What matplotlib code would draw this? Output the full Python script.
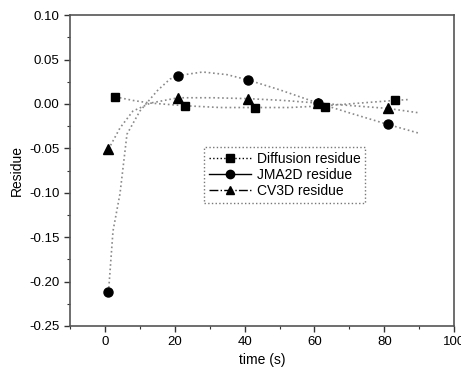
import matplotlib.pyplot as plt
from matplotlib.lines import Line2D
from matplotlib.ticker import MultipleLocator

plt.rcParams['font.family'] = ['Liberation Sans', 'DejaVu Sans']

# measured points
t_diff = [3, 23, 43, 63, 83]
r_diff = [0.008, -0.002, -0.005, -0.003, 0.004]
t_jma = [1, 21, 41, 61, 81]
r_jma = [-0.212, 0.032, 0.027, 0.001, -0.023]
t_cv = [1, 21, 41, 61, 81]
r_cv = [-0.051, 0.007, 0.006, 0.001, -0.005]

# fitted curves
ct_diff = [3, 8, 13, 23, 33, 43, 53, 63, 73, 83, 87]
cr_diff = [0.008, 0.004, 0.001, -0.002, -0.004, -0.004, -0.004, -0.002, 0.001, 0.004, 0.005]
ct_jma = [1, 1.4, 2.3, 4.3, 6.3, 10, 15, 18.6, 21, 28, 35, 41, 50, 61, 70, 81, 90]
cr_jma = [-0.212, -0.191, -0.143, -0.101, -0.034, -0.008, 0.015, 0.028, 0.032, 0.036, 0.033,
          0.027, 0.016, 0.001, -0.010, -0.023, -0.033]
ct_cv = [1, 4.3, 8, 13, 21, 31, 41, 51, 61, 71, 81, 90]
cr_cv = [-0.051, -0.027, -0.008, 0.001, 0.007, 0.007, 0.006, 0.004, 0.001, -0.002, -0.005, -0.010]

fig = plt.figure(figsize=(4.61, 3.70), dpi=100)
ax = fig.add_axes([0.152, 0.119, 0.833, 0.840])

gris = '#8a8a8a'
ax.plot(ct_diff, cr_diff, ':', color=gris, lw=1.2)
ax.plot(ct_jma, cr_jma, ':', color=gris, lw=1.2)
ax.plot(ct_cv, cr_cv, ':', color=gris, lw=1.2)
ax.plot(t_diff, r_diff, 's', color='black', ms=6, ls='none')
ax.plot(t_jma, r_jma, 'o', color='black', ms=6.5, ls='none')
ax.plot(t_cv, r_cv, '^', color='black', ms=6.5, ls='none')

ax.set_xlim(-10, 100)
ax.set_ylim(-0.25, 0.10)
ax.xaxis.set_minor_locator(MultipleLocator(10))
ax.yaxis.set_minor_locator(MultipleLocator(0.025))
ax.set_xticks([0, 20, 40, 60, 80, 100])
ax.set_xticklabels(['0', '20', '40', '60', '80', '100'])
ax.set_yticks([0.10, 0.05, 0.0, -0.05, -0.10, -0.15, -0.20, -0.25])
ax.set_yticklabels(['0.10', '0.05', '0.00', '-0.05', '-0.10', '-0.15', '-0.20', '-0.25'])
ax.tick_params(which='major', direction='out', length=4, width=1, labelsize=9.5, color='#333333')
ax.tick_params(which='minor', direction='out', length=2.5, width=0.8, color='#333333')
for s in ax.spines.values():
    s.set_color('#555555')
    s.set_linewidth(1.2)

ax.set_xlabel('time (s)', fontsize=10, labelpad=3)
ax.set_ylabel('Residue', fontsize=10, labelpad=4)

handles = [
    Line2D([], [], color='black', marker='s', ms=5.5, ls=':', lw=1),
    Line2D([], [], color='black', marker='o', ms=6, ls='-', lw=1),
    Line2D([], [], color='black', marker='^', ms=6, ls='-.', lw=1),
]
leg = ax.legend(handles, ['Diffusion residue', 'JMA2D residue', 'CV3D residue'],
                loc='upper left', bbox_to_anchor=(0.35, 0.575), fontsize=10,
                frameon=True, fancybox=False, handlelength=3.0, borderpad=0.35,
                labelspacing=0.15, handletextpad=0.4, borderaxespad=0)
leg.get_frame().set_edgecolor('#555555')
leg.get_frame().set_linestyle(':')
leg.get_frame().set_linewidth(1)

plt.savefig('out.png', dpi=100)
